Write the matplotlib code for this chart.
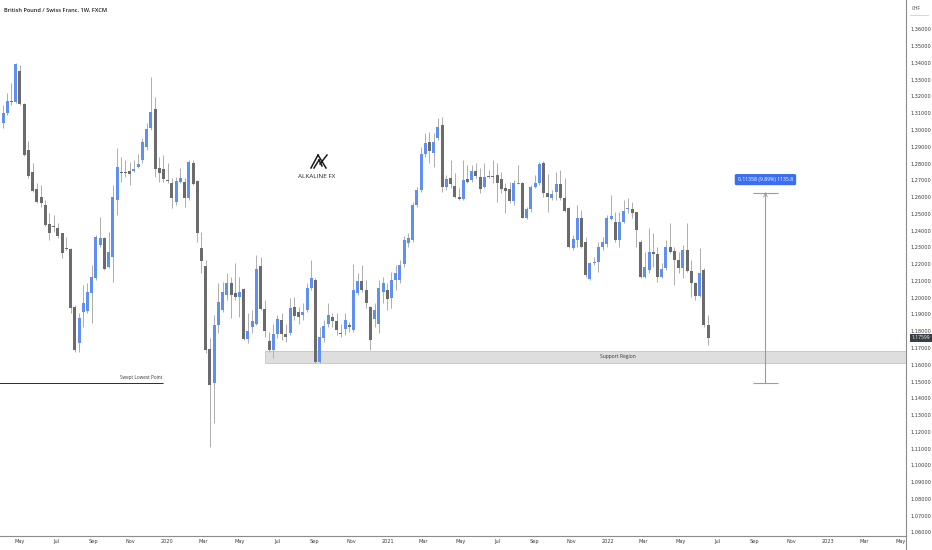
import matplotlib
matplotlib.use("Agg")
import matplotlib.pyplot as plt
import matplotlib.dates as mdates
import matplotlib.transforms as mtransforms
from matplotlib.lines import Line2D
from matplotlib.patches import Rectangle
from matplotlib.ticker import FixedLocator, FuncFormatter
import pandas as pd

# ================= DATA (GBP/CHF weekly) =================
opens = [1.2985, 1.3040, 1.3103, 1.3173, 1.3169, 1.3354, 1.3153, 1.2881, 1.2751, 1.2646,
         1.2602, 1.2553, 1.2437, 1.2429, 1.2417, 1.2384, 1.2294, 1.2290, 1.1946, 1.1728,
         1.1916, 1.1922, 1.2030, 1.2115, 1.2314, 1.2354, 1.2185, 1.2240, 1.2582, 1.2751,
         1.2747, 1.2755, 1.2757, 1.2781, 1.2821, 1.2901, 1.3010, 1.3123, 1.2771, 1.2765,
         1.2702, 1.2682, 1.2572, 1.2692, 1.2692, 1.2592, 1.2805, 1.2698, 1.2298, 1.2188,
         1.1697, 1.1493, 1.1837, 1.1926, 1.2015, 1.2085, 1.2029, 1.2006, 1.2053, 1.1751,
         1.1827, 1.1846, 1.2188, 1.1930, 1.1743, 1.1687, 1.1783, 1.1866, 1.1783, 1.1787,
         1.1946, 1.1916, 1.1896, 1.1926, 1.2059, 1.2105, 1.1618, 1.1757, 1.1842, 1.1882,
         1.1862, 1.1791, 1.1811, 1.1835, 1.1807, 1.2025, 1.2101, 1.2045, 1.1942, 1.1870,
         1.1846, 1.2035, 1.2045, 1.1996, 1.2105, 1.2105, 1.2200, 1.2327, 1.2343, 1.2552,
         1.2642, 1.2856, 1.2927, 1.2861, 1.2950, 1.3030, 1.2658, 1.2712, 1.2666, 1.2602,
         1.2587, 1.2708, 1.2702, 1.2756, 1.2722, 1.2662, 1.2724, 1.2726, 1.2732, 1.2706,
         1.2652, 1.2646, 1.2577, 1.2680, 1.2686, 1.2477, 1.2527, 1.2658, 1.2682, 1.2805,
         1.2622, 1.2597, 1.2632, 1.2678, 1.2593, 1.2533, 1.2294, 1.2344, 1.2473, 1.2334,
         1.2109, 1.2205, 1.2215, 1.2304, 1.2320, 1.2471, 1.2453, 1.2344, 1.2453, 1.2527,
         1.2527, 1.2509, 1.2334, 1.2125, 1.2165, 1.2270, 1.2261, 1.2125, 1.2175, 1.2304,
         1.2280, 1.2225, 1.2175, 1.2284, 1.2161, 1.2090, 1.2012, 1.2165, 1.1837]
highs = [1.3022, 1.3149, 1.3219, 1.3278, 1.3397, 1.3388, 1.3159, 1.2936, 1.2801, 1.2682,
         1.2672, 1.2582, 1.2503, 1.2493, 1.2443, 1.2388, 1.2364, 1.2294, 1.1956, 1.1907,
         1.2075, 1.2085, 1.2195, 1.2374, 1.2483, 1.2364, 1.2394, 1.2672, 1.2891, 1.2841,
         1.2821, 1.2811, 1.2821, 1.2857, 1.2950, 1.3040, 1.3314, 1.3199, 1.2841, 1.2851,
         1.2801, 1.2712, 1.2722, 1.2771, 1.2712, 1.2821, 1.2821, 1.2702, 1.2394, 1.2224,
         1.1757, 1.1896, 1.2085, 1.2095, 1.2145, 1.2125, 1.2204, 1.2125, 1.2055, 1.1906,
         1.1926, 1.2254, 1.2244, 1.1986, 1.1797, 1.1846, 1.1896, 1.1906, 1.1846, 1.1996,
         1.2002, 1.1946, 1.1966, 1.2089, 1.2224, 1.2115, 1.1827, 1.1866, 1.1966, 1.1906,
         1.1906, 1.1846, 1.1906, 1.1856, 1.2200, 1.2145, 1.2194, 1.2105, 1.1950, 1.1966,
         1.2105, 1.2125, 1.2085, 1.2155, 1.2194, 1.2224, 1.2367, 1.2383, 1.2572, 1.2662,
         1.2900, 1.2980, 1.2990, 1.2980, 1.3070, 1.3080, 1.2732, 1.2821, 1.2742, 1.2652,
         1.2821, 1.2791, 1.2791, 1.2805, 1.2771, 1.2801, 1.2762, 1.2821, 1.2801, 1.2752,
         1.2682, 1.2692, 1.2702, 1.2791, 1.2692, 1.2543, 1.2672, 1.2732, 1.2811, 1.2817,
         1.2738, 1.2642, 1.2752, 1.2762, 1.2712, 1.2543, 1.2374, 1.2553, 1.2523, 1.2364,
         1.2215, 1.2245, 1.2334, 1.2364, 1.2493, 1.2612, 1.2513, 1.2513, 1.2583, 1.2593,
         1.2573, 1.2513, 1.2344, 1.2274, 1.2414, 1.2384, 1.2304, 1.2205, 1.2344, 1.2443,
         1.2304, 1.2274, 1.2314, 1.2443, 1.2225, 1.2096, 1.2294, 1.2175, 1.1897]
lows = [1.2970, 1.3010, 1.3089, 1.3149, 1.3159, 1.3149, 1.2845, 1.2712, 1.2632, 1.2563,
        1.2543, 1.2427, 1.2344, 1.2394, 1.2354, 1.2235, 1.2284, 1.1907, 1.1678, 1.1678,
        1.1827, 1.1907, 1.1847, 1.2105, 1.2304, 1.2165, 1.2175, 1.2095, 1.2493, 1.2692,
        1.2722, 1.2672, 1.2751, 1.2771, 1.2801, 1.2881, 1.3000, 1.2722, 1.2692, 1.2692,
        1.2682, 1.2533, 1.2553, 1.2682, 1.2543, 1.2582, 1.2672, 1.2334, 1.2145, 1.1668,
        1.1111, 1.1250, 1.1787, 1.1916, 1.1986, 1.1876, 1.1986, 1.1886, 1.1747, 1.1727,
        1.1787, 1.1837, 1.1926, 1.1767, 1.1678, 1.1638, 1.1757, 1.1747, 1.1737, 1.1777,
        1.1866, 1.1846, 1.1866, 1.1916, 1.2045, 1.1608, 1.1608, 1.1737, 1.1827, 1.1827,
        1.1777, 1.1767, 1.1777, 1.1797, 1.1797, 1.2015, 1.2035, 1.1936, 1.1687, 1.1827,
        1.1787, 1.1966, 1.1926, 1.1936, 1.2045, 1.2089, 1.2184, 1.2304, 1.2334, 1.2542,
        1.2632, 1.2840, 1.2801, 1.2781, 1.2940, 1.2632, 1.2642, 1.2652, 1.2593, 1.2583,
        1.2583, 1.2682, 1.2692, 1.2712, 1.2622, 1.2652, 1.2712, 1.2682, 1.2573, 1.2622,
        1.2503, 1.2563, 1.2553, 1.2676, 1.2473, 1.2469, 1.2513, 1.2652, 1.2672, 1.2602,
        1.2513, 1.2583, 1.2583, 1.2583, 1.2513, 1.2294, 1.2284, 1.2304, 1.2294, 1.2125,
        1.2105, 1.2195, 1.2155, 1.2284, 1.2304, 1.2463, 1.2334, 1.2304, 1.2443, 1.2503,
        1.2473, 1.2304, 1.2115, 1.2115, 1.2145, 1.2185, 1.2096, 1.2115, 1.2165, 1.2265,
        1.2076, 1.2145, 1.2115, 1.2155, 1.2006, 1.1986, 1.2006, 1.1827, 1.1718]
closes = [1.3010, 1.3099, 1.3175, 1.3165, 1.3394, 1.3153, 1.2851, 1.2726, 1.2638, 1.2572,
          1.2567, 1.2433, 1.2388, 1.2419, 1.2370, 1.2264, 1.2290, 1.1940, 1.1688, 1.1877,
          1.1966, 1.2032, 1.2125, 1.2364, 1.2354, 1.2171, 1.2274, 1.2602, 1.2777, 1.2745,
          1.2743, 1.2737, 1.2765, 1.2795, 1.2930, 1.3006, 1.3109, 1.2767, 1.2745, 1.2706,
          1.2696, 1.2592, 1.2696, 1.2716, 1.2596, 1.2811, 1.2678, 1.2384, 1.2221, 1.1687,
          1.1479, 1.1837, 1.1972, 1.2031, 1.2085, 1.2015, 1.2002, 1.2035, 1.1751, 1.1803,
          1.1862, 1.2174, 1.1930, 1.1803, 1.1687, 1.1783, 1.1874, 1.1783, 1.1763, 1.1936,
          1.1890, 1.1886, 1.1916, 1.2059, 1.2115, 1.1618, 1.1763, 1.1831, 1.1894, 1.1862,
          1.1807, 1.1783, 1.1866, 1.1823, 1.2045, 1.2101, 1.2045, 1.1970, 1.1747, 1.1926,
          1.2055, 1.2089, 1.1994, 1.2105, 1.2145, 1.2194, 1.2343, 1.2353, 1.2552, 1.2642,
          1.2856, 1.2924, 1.2877, 1.2930, 1.3020, 1.2658, 1.2708, 1.2678, 1.2599, 1.2587,
          1.2702, 1.2688, 1.2756, 1.2726, 1.2648, 1.2722, 1.2720, 1.2718, 1.2682, 1.2646,
          1.2638, 1.2577, 1.2682, 1.2684, 1.2477, 1.2527, 1.2658, 1.2682, 1.2797, 1.2622,
          1.2599, 1.2616, 1.2678, 1.2593, 1.2519, 1.2304, 1.2348, 1.2473, 1.2304, 1.2135,
          1.2205, 1.2215, 1.2304, 1.2334, 1.2473, 1.2487, 1.2344, 1.2453, 1.2517, 1.2533,
          1.2507, 1.2404, 1.2125, 1.2185, 1.2274, 1.2261, 1.2121, 1.2169, 1.2304, 1.2274,
          1.2225, 1.2175, 1.2284, 1.2161, 1.2086, 1.2012, 1.2149, 1.1837, 1.17599]

first_week = "2019-03-25"
last_price = 1.17599
price_ticks = [1.06, 1.07, 1.08, 1.09, 1.10, 1.11, 1.12, 1.13, 1.14, 1.15, 1.16,
               1.17, 1.18, 1.19, 1.20, 1.21, 1.22, 1.23, 1.24, 1.25, 1.26, 1.27,
               1.28, 1.29, 1.30, 1.31, 1.32, 1.33, 1.34, 1.35, 1.36]
support_low, support_high = 1.1609, 1.1684
support_start = "2020-06-11"
swept_low = 1.1490
swept_end = "2019-12-25"
measure_date = "2022-09-19"
measure_low, measure_high = 1.1490, 1.2626
measure_text = "0.11358 (9.89%) 1135.8"

UP = "#5f8ff0"
DOWN = "#6b6b6b"
WICK = "#adadad"
TXT = "#3a3a3a"

weeks = pd.date_range(first_week, periods=len(opens), freq="7D")
x = mdates.date2num(weeks) + 3

# ================= FIGURE =================
fig = plt.figure(figsize=(9.32, 5.5), dpi=100)
ax = fig.add_axes([0, 14 / 550, 906 / 932, 536 / 550])
plt.rcParams["font.family"] = ["Open Sans", "DejaVu Sans"]

bottoms = [min(o, c) for o, c in zip(opens, closes)]
heights = [max(abs(c - o), 0.0003) for o, c in zip(opens, closes)]
colors = [UP if c >= o else DOWN for o, c in zip(opens, closes)]

ax.vlines(x, lows, highs, color=WICK, lw=0.7, zorder=2)
ax.bar(x, heights, bottom=bottoms, width=5, color=colors, linewidth=0, zorder=3)

jan1 = mdates.date2num(pd.Timestamp("2020-01-01"))
ax.set_xlim(jan1 - 277, jan1 + 1225)
ax.set_ylim(1.0579, 1.3775)

# support region
s0 = mdates.date2num(pd.Timestamp(support_start))
ax.add_patch(Rectangle((s0, support_low), jan1 + 1300 - s0, support_high - support_low,
                       facecolor="#dedede", edgecolor="#c4c4c4", lw=0.6, zorder=1))
ax.text(mdates.date2num(pd.Timestamp("2022-01-17")), (support_low + support_high) / 2,
        "Support Region", fontsize=3.6, color="#333333", ha="center", va="center", zorder=4)

# swept lowest point
ax.hlines(swept_low, jan1 - 300, mdates.date2num(pd.Timestamp(swept_end)),
          color="#2b2b2b", lw=0.7, zorder=4)
ax.text(mdates.date2num(pd.Timestamp(swept_end)) - 1, swept_low + 0.0018, "Swept Lowest Point",
        fontsize=3.3, color="#333333", ha="right", va="bottom")

# measuring tool
md = mdates.date2num(pd.Timestamp(measure_date))
ax.vlines(md, measure_low, measure_high, color="#9a9ca3", lw=0.8, zorder=4)
ax.hlines([measure_low, measure_high], md - 21, md + 21, color="#9a9ca3", lw=0.8, zorder=4)
ax.plot([md - 3, md, md + 3], [measure_high - 0.0025, measure_high, measure_high - 0.0025],
        color="#9a9ca3", lw=0.6, zorder=4)
ax.text(md, measure_high + 0.0078, measure_text, fontsize=3.7, color="white",
        ha="center", va="center", zorder=5,
        bbox=dict(boxstyle="round,pad=0.6,rounding_size=0.3", fc="#3a6ff2", ec="none"))

# logo
for (xa, ya), (xb, yb) in [((311, 168), (318, 155)), ((318, 155), (326, 168)),
                           ((314, 168), (319, 160)), ((319, 160), (322, 166)),
                           ((327, 155), (320, 164))]:
    ax.add_line(Line2D([xa / 906, xb / 906], [1 - ya / 536, 1 - yb / 536],
                       transform=ax.transAxes, color="#1a1a1a", lw=1.1))
ax.text(317 / 906, 1 - 176 / 536, "ALKALINE FX", transform=ax.transAxes,
        fontsize=4.6, color="#222222", ha="center", va="center")

# title
ax.text(4 / 906, 1 - 10 / 536, "British Pound / Swiss Franc, 1W, FXCM", transform=ax.transAxes,
        fontsize=4.1, color="#222222", ha="left", va="center", fontweight="semibold")

# ================= AXES =================
months = pd.date_range("2019-05-01", "2023-05-01", freq="2MS")
ax.set_xticks(mdates.date2num(months))
ax.set_xticklabels([str(m.year) if m.month == 1 else m.strftime("%b") for m in months])
ax.tick_params(axis="x", length=0, labelsize=3.6, colors=TXT, pad=2.2)

ax.yaxis.tick_right()
ax.yaxis.set_major_locator(FixedLocator(price_ticks))
ax.yaxis.set_major_formatter(FuncFormatter(lambda v, p: "%.5f" % v))
ax.tick_params(axis="y", length=0, labelsize=3.6, colors=TXT, pad=3)

for s in ["top", "left"]:
    ax.spines[s].set_visible(False)
for s in ["bottom", "right"]:
    ax.spines[s].set_color("#8c8c8c")
    ax.spines[s].set_linewidth(0.8)
fig.add_artist(Line2D([906 / 932, 906 / 932], [0, 14 / 550], transform=fig.transFigure,
                      color="#8c8c8c", lw=0.8))

# current price label
trans = mtransforms.blended_transform_factory(ax.transAxes, ax.transData)
ax.text(1.006, last_price, "%.5f" % last_price, transform=trans, fontsize=3.6, color="white",
        ha="left", va="center", clip_on=False,
        bbox=dict(boxstyle="square,pad=0.35", fc="#3b3d44", ec="none"))

# currency header
fig.text(912 / 932, 1 - 8 / 550, "CHF", fontsize=3.4, color=TXT, ha="left", va="center")
fig.add_artist(Line2D([910 / 932, 928 / 932], [1 - 15 / 550, 1 - 15 / 550],
                      transform=fig.transFigure, color="#d0d0d0", lw=0.6))

plt.savefig("out.png", dpi=100)
plt.close()
